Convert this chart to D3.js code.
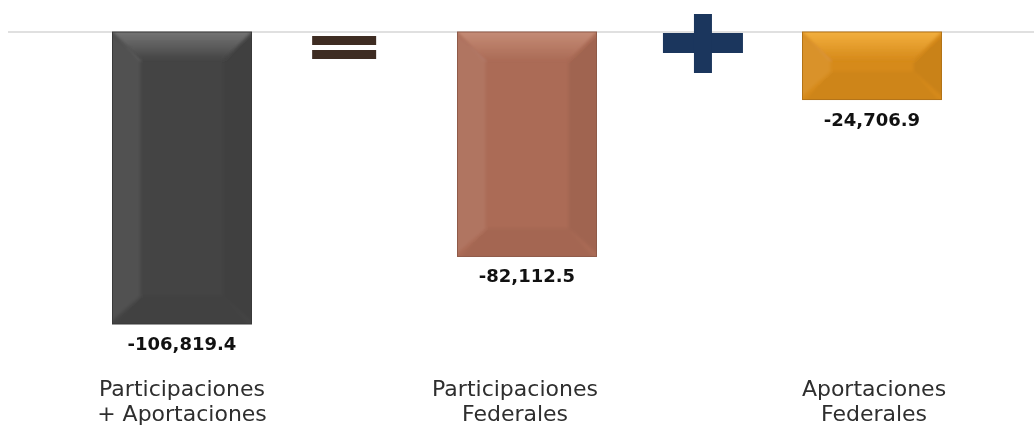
<!DOCTYPE html>
<html>
<head>
<meta charset="utf-8">
<script src="https://cdn.jsdelivr.net/npm/d3@7"></script>
<style>
  body { margin: 0; background: #fff; }
  svg { display: block; }
</style>
</head>
<body>
<svg class="chart"></svg>
<script>
const categories = [["Participaciones", "+ Aportaciones"], ["Participaciones", "Federales"], ["Aportaciones", "Federales"]];
const values = [-106819.4, -82112.5, -24706.9];
const valueLabels = ["-106,819.4", "-82,112.5", "-24,706.9"];
const barColors = ["#444444", "#ab6b56", "#d68a1a"];
const topColors = ["#7a7a7a", "#c8907a", "#f6b443"];

const width = 1034;
const height = 426;
const barWidth = 139;
const bevel = 28;
// the category labels do not sit exactly under their bars
const labelShift = [0, -12, 2];

const svg = d3.select(".chart")
  .attr("width", width)
  .attr("height", height);

const defs = svg.append("defs");
defs.append("filter")
  .attr("id", "soft")
  .attr("x", "-10%").attr("y", "-10%").attr("width", "120%").attr("height", "120%")
  .append("feGaussianBlur")
    .attr("stdDeviation", 1.5);

const ids = d3.range(values.length);

const x = d3.scalePoint()
  .domain(ids)
  .range([182, 872]);

const y = d3.scaleLinear()
  .domain([d3.min(values), 0])
  .range([324, 32]);

// zero line
svg.append("line")
  .attr("x1", 8).attr("x2", width)
  .attr("y1", y(0)).attr("y2", y(0))
  .attr("stroke", "#d6d6d6")
  .attr("stroke-width", 1.5);

const bar = svg.selectAll("g.bar")
  .data(ids)
  .enter().append("g")
    .attr("class", "bar");

bar.each(function(i) {
  const g = d3.select(this);
  const x0 = x(i) - barWidth / 2;
  const x1 = x(i) + barWidth / 2;
  const y0 = y(0);
  const y1 = y(values[i]);
  const b = Math.min(bevel, (y1 - y0) / 2);

  defs.append("clipPath")
    .attr("id", "clip" + i)
    .append("rect")
      .attr("x", x0).attr("y", y0)
      .attr("width", barWidth).attr("height", y1 - y0);

  const grad = defs.append("linearGradient")
    .attr("id", "top" + i)
    .attr("x1", 0).attr("y1", 0).attr("x2", 0).attr("y2", 1);
  grad.append("stop").attr("offset", "0%").attr("stop-color", topColors[i]);
  grad.append("stop").attr("offset", "100%").attr("stop-color", barColors[i]);

  g.append("rect")
    .attr("x", x0).attr("y", y0)
    .attr("width", barWidth).attr("height", y1 - y0)
    .attr("fill", barColors[i]);

  const pts = function(p) { return p.map(function(d) { return d.join(","); }).join(" "); };
  const bev = g.append("g")
    .attr("clip-path", "url(#clip" + i + ")")
    .append("g")
      .attr("filter", "url(#soft)");
  // top bevel
  bev.append("polygon")
    .attr("points", pts([[x0 - 4, y0 - 4], [x1 + 4, y0 - 4], [x1 - b, y0 + b], [x0 + b, y0 + b]]))
    .attr("fill", "url(#top" + i + ")");
  // left bevel
  bev.append("polygon")
    .attr("points", pts([[x0 - 4, y0], [x0 + b, y0 + b], [x0 + b, y1 - b], [x0 - 4, y1]]))
    .attr("fill", "#fff").attr("opacity", 0.07);
  // right bevel
  bev.append("polygon")
    .attr("points", pts([[x1 + 4, y0], [x1 - b, y0 + b], [x1 - b, y1 - b], [x1 + 4, y1]]))
    .attr("fill", "#000").attr("opacity", 0.06);
  // bottom bevel
  bev.append("polygon")
    .attr("points", pts([[x0, y1 + 4], [x0 + b, y1 - b], [x1 - b, y1 - b], [x1, y1 + 4]]))
    .attr("fill", "#000").attr("opacity", 0.04);

  g.append("rect")
    .attr("x", x0).attr("y", y0)
    .attr("width", barWidth).attr("height", y1 - y0)
    .attr("fill", "none")
    .attr("stroke", d3.color(barColors[i]).darker(0.5))
    .attr("stroke-width", 1);

  g.append("text")
    .attr("x", x(i))
    .attr("y", y1 + 26)
    .attr("text-anchor", "middle")
    .attr("font-family", "DejaVu Sans, sans-serif")
    .attr("font-weight", "bold")
    .attr("font-size", 18)
    .attr("fill", "#111")
    .text(valueLabels[i]);

  const t = g.append("text")
    .attr("text-anchor", "middle")
    .attr("font-family", "DejaVu Sans, sans-serif")
    .attr("font-size", 22)
    .attr("fill", "#2e2e2e");
  categories[i].forEach(function(line, k) {
    t.append("tspan")
      .attr("x", x(i) + labelShift[i])
      .attr("y", 396 + k * 25)
      .text(line);
  });
});

// operators between the bars
const step = x(1) - x(0);
const eqX = x(0) + step * 0.47;
svg.selectAll("rect.eq")
  .data([36, 50])
  .enter().append("rect")
    .attr("class", "eq")
    .attr("x", eqX - 32).attr("y", function(d) { return d; })
    .attr("width", 64).attr("height", 9)
    .attr("fill", "#3e2c22");

const plusX = x(1) + step * 0.51;
svg.append("rect")
  .attr("x", plusX - 40).attr("y", 33)
  .attr("width", 80).attr("height", 20)
  .attr("fill", "#1b365d");
svg.append("rect")
  .attr("x", plusX - 9).attr("y", 14)
  .attr("width", 18).attr("height", 59)
  .attr("fill", "#1b365d");
</script>
</body>
</html>
